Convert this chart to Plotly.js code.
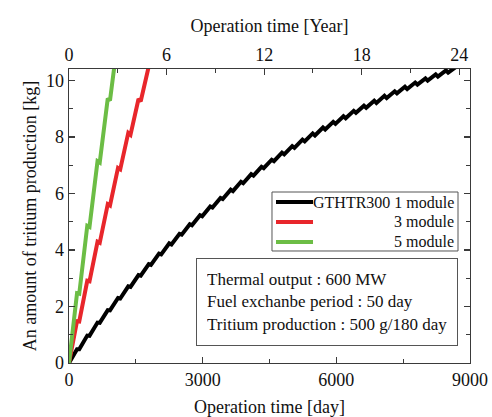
<!DOCTYPE html>
<html>
<head>
<meta charset="utf-8">
<script src="https://cdn.plot.ly/plotly-3.0.1.min.js"></script>
</head>
<body style="margin:0">
<div id="chart" style="width:492px;height:417px"></div>
<script>
// Operation time [day] and tritium amount [kg]
const daysOne = [0,180,230,410,460,640,690,870,920,1100,1150,1330,1380,1560,1610,1790,1840,2020,2070,2250,2300,2480,2530,2710,2760,2940,2990,3170,3220,3400,3450,3630,3680,3860,3910,4090,4140,4320,4370,4550,4600,4780,4830,5010,5060,5240,5290,5470,5520,5700,5750,5930,5980,6160,6210,6390,6440,6620,6670,6850,6900,7080,7130,7310,7360,7540,7590,7770,7820,8000,8050,8230,8280,8460,8510,8690];
const kgOne = [0,0.49,0.49,0.97,0.96,1.43,1.42,1.87,1.86,2.30,2.28,2.71,2.69,3.11,3.09,3.50,3.47,3.87,3.84,4.23,4.19,4.57,4.54,4.91,4.87,5.23,5.19,5.54,5.50,5.84,5.80,6.13,6.08,6.41,6.36,6.68,6.63,6.94,6.89,7.19,7.14,7.44,7.38,7.67,7.61,7.90,7.84,8.12,8.05,8.33,8.26,8.53,8.46,8.73,8.66,8.92,8.85,9.10,9.03,9.28,9.20,9.45,9.37,9.61,9.54,9.77,9.69,9.92,9.85,10.07,9.99,10.21,10.13,10.35,10.27,10.48];
const daysThree = [0,180,230,410,460,640,690,870,920,1100,1150,1330,1380,1560,1610,1790];
const kgThree = [0,1.48,1.47,2.91,2.89,4.29,4.25,5.62,5.57,6.90,6.85,8.14,8.07,9.34,9.26,10.49];
const daysFive = [0,180,230,410,460,640,690,870,920,1100];
const kgFive = [0,2.47,2.45,4.85,4.81,7.14,7.09,9.36,9.29,11.50];

const seriesNames = ["GTHTR300 1 module", "3 module", "5 module"];
const seriesColors = ["#000000", "#e8262b", "#6cbd45"];

const dayTicks = [0, 3000, 6000, 9000];
const yearTicks = [0, 6, 12, 18, 24];
const kgTicks = [0, 2, 4, 6, 8, 10];
const dayMax = 9000;
const daysPerYear = 365;

const infoLines = ["Thermal output : 600 MW", "Fuel exchanbe period : 50 day", "Tritium production : 500 g/180 day"];

const SERIF = "Times New Roman";
const AX = "#3a3a3a";

const traces = [
  {x: daysOne, y: kgOne, name: seriesNames[0], mode: "lines", line: {color: seriesColors[0], width: 4}, showlegend: false},
  {x: daysThree, y: kgThree, name: seriesNames[1], mode: "lines", line: {color: seriesColors[1], width: 4}, showlegend: false},
  {x: daysFive, y: kgFive, name: seriesNames[2], mode: "lines", line: {color: seriesColors[2], width: 4}, showlegend: false},
  {x: [0], y: [0], xaxis: "x2", mode: "markers", marker: {opacity: 0}, showlegend: false, hoverinfo: "skip"}
];

// legend drawn as a boxed key (paper coordinates)
const legendRows = [0.5476, 0.4796, 0.4116];
const legendShapes = [
  {type: "rect", xref: "paper", yref: "paper", x0: 0.5062, x1: 0.9701, y0: 0.3810, y1: 0.5816,
   line: {color: "#555555", width: 1}, fillcolor: "#ffffff", layer: "above"}
].concat(seriesColors.map((c, i) => ({
  type: "line", xref: "paper", yref: "paper", x0: 0.5162, x1: 0.6085, y0: legendRows[i], y1: legendRows[i],
  line: {color: c, width: 4}, layer: "above"
})));
const legendTexts = seriesNames.map((n, i) => ({
  xref: "paper", yref: "paper", x: 0.9651, y: legendRows[i], xanchor: "right", yanchor: "middle",
  text: n, showarrow: false, font: {family: SERIF, size: 16, color: "#111111"}
}));

const layout = {
  width: 492, height: 417,
  margin: {l: 69, r: 22, t: 69, b: 54},
  paper_bgcolor: "#ffffff", plot_bgcolor: "#ffffff",
  font: {family: SERIF, size: 18, color: "#111111"},
  showlegend: false,
  xaxis: {
    range: [0, dayMax], tickvals: dayTicks, ticktext: dayTicks.map(String),
    ticks: "inside", ticklen: 6, tickwidth: 1.3, tickcolor: AX,
    minor: {dtick: 1500, ticks: "inside", ticklen: 4, tickwidth: 1.1, tickcolor: AX},
    showline: true, linecolor: AX, linewidth: 1.3, mirror: false,
    showgrid: false, zeroline: false,
    title: {text: "Operation time [day]", font: {family: SERIF, size: 18}, standoff: 12},
    tickfont: {family: SERIF, size: 18}
  },
  xaxis2: {
    overlaying: "x", side: "top", anchor: "y",
    range: [0, dayMax / daysPerYear], tickvals: yearTicks, ticktext: yearTicks.map(String),
    ticks: "inside", ticklen: 6, tickwidth: 1.3, tickcolor: AX,
    minor: {dtick: 3, ticks: "inside", ticklen: 4, tickwidth: 1.1, tickcolor: AX},
    showline: true, linecolor: AX, linewidth: 1.3,
    showgrid: false, zeroline: false,
    title: {text: "Operation time [Year]", font: {family: SERIF, size: 18}, standoff: 7},
    tickfont: {family: SERIF, size: 18}
  },
  yaxis: {
    range: [0, 10.4], tickvals: kgTicks, ticktext: kgTicks.map(String),
    ticks: "inside", ticklen: 6, tickwidth: 1.3, tickcolor: AX,
    minor: {dtick: 1, ticks: "inside", ticklen: 4, tickwidth: 1.1, tickcolor: AX},
    showline: true, linecolor: AX, linewidth: 1.3, mirror: "ticks",
    showgrid: false, zeroline: false,
    title: {text: "An amount of tritium production [kg]", font: {family: SERIF, size: 18}, standoff: 4},
    tickfont: {family: SERIF, size: 18}
  },
  shapes: legendShapes,
  annotations: legendTexts.concat([{
    xref: "paper", yref: "paper", x: 0.3167, y: 0.357, xanchor: "left", yanchor: "top",
    text: infoLines.join("<br>"), align: "left", showarrow: false,
    font: {family: SERIF, size: 17, color: "#111111"},
    bordercolor: "#555555", borderwidth: 1, borderpad: 10, bgcolor: "#ffffff",
    width: 240, height: 66
  }])
};

Plotly.newPlot("chart", traces, layout, {displayModeBar: false, staticPlot: true});
</script>
</body>
</html>
